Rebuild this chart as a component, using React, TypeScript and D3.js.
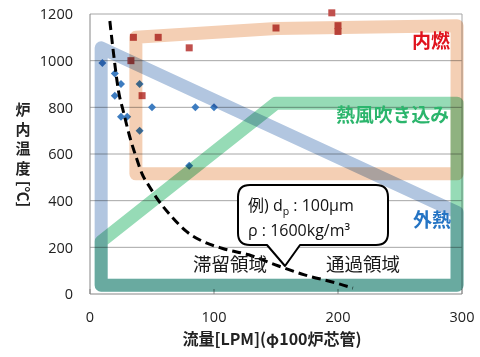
import React from "react";
import * as d3 from "d3";

// ---- data ----
const xTicks = [0, 100, 200, 300];
const yTicks = [0, 200, 400, 600, 800, 1000, 1200];

// 外熱 (blue diamonds)
const blueX = [10, 20, 25, 40, 20, 50, 85, 100, 25, 30, 40, 80];
const blueY = [990, 945, 900, 900, 850, 800, 800, 800, 760, 760, 700, 550];

// 内燃 (red squares)
const redX = [35, 55, 80, 33, 42, 150, 195, 200, 200];
const redY = [1100, 1100, 1055, 1000, 850, 1140, 1205, 1150, 1125];

// boundary curve (dp 100µm, ρ 1600kg/m3)
const curveX = [16, 19, 23, 27, 32, 37, 42, 48, 54, 66, 78, 90, 107, 128, 149, 173, 200, 212];
const curveY = [1170, 1030, 870, 780, 675, 590, 515, 460, 410, 331, 267, 228, 195, 168, 126, 82, 45, 25];

// regions (band outlines)
const orangeBandX = [37, 37, 150, 296, 296];
const orangeBandY = [515, 1100, 1138, 1150, 515];
const blueBandX = [9, 9, 296, 296];
const blueBandY = [38, 1055, 350, 38];
const greenBandX = [9, 9, 150, 296, 296];
const greenBandY = [38, 225, 818, 818, 38];

const W = 480;
const H = 357;

export default function App() {
  const x = d3.scaleLinear().domain([0, 300]).range([90, 462]);
  const y = d3.scaleLinear().domain([0, 1200]).range([294, 14]);

  const closed = d3
    .line<[number, number]>()
    .x((d) => x(d[0]))
    .y((d) => y(d[1]))
    .curve(d3.curveLinearClosed);
  const smooth = d3
    .line<[number, number]>()
    .x((d) => x(d[0]))
    .y((d) => y(d[1]))
    .curve(d3.curveMonotoneX);

  const zip = (a: number[], b: number[]) => a.map((v, i) => [v, b[i]] as [number, number]);

  const latin = "'Open Sans', 'Noto Sans CJK JP', sans-serif";
  const cjk = "'Noto Sans CJK JP', sans-serif";

  const bandStyle = (color: string) => ({
    fill: "none",
    stroke: color,
    strokeWidth: 13,
    strokeLinejoin: "round" as const,
    mixBlendMode: "multiply" as const,
  });

  return (
    <svg
      width={W}
      height={H}
      style={{ position: "absolute", left: 0, top: 0, background: "#fff" }}
    >
      <rect x={0} y={0} width={W} height={H} fill="#fff" />
      {/* gridlines */}
      {yTicks.slice(1).map((t) => (
        <line key={t} x1={x(0)} x2={x(300)} y1={y(t)} y2={y(t)} stroke="#a6a6a6" strokeWidth={1} />
      ))}
      <line x1={x(300)} x2={x(300)} y1={y(1200)} y2={y(0)} stroke="#a6a6a6" strokeWidth={1} />
      {/* axes */}
      <line x1={x(0)} x2={x(0)} y1={y(1200)} y2={y(0)} stroke="#868686" strokeWidth={1} />
      <line x1={x(0)} x2={x(300)} y1={y(0)} y2={y(0)} stroke="#868686" strokeWidth={1} />
      {xTicks.map((t) => (
        <line key={t} x1={x(t)} x2={x(t)} y1={y(0)} y2={y(0) - 5} stroke="#868686" />
      ))}
      {/* tick labels */}
      {yTicks.map((t) => (
        <text key={t} x={73} y={y(t)} dy="0.36em" textAnchor="end" fontFamily={latin} fontSize={14.5} fill="#222">
          {t}
        </text>
      ))}
      {xTicks.map((t) => (
        <text key={t} x={x(t)} y={322} textAnchor="middle" fontFamily={latin} fontSize={14.5} fill="#222">
          {t}
        </text>
      ))}
      {/* markers */}
      {blueX.map((v, i) => {
        const cx = x(v);
        const cy = y(blueY[i]);
        return (
          <path key={"b" + i} d={`M${cx},${cy - 4}L${cx + 4},${cy}L${cx},${cy + 4}L${cx - 4},${cy}Z`} fill="#3d7cc0" />
        );
      })}
      {redX.map((v, i) => (
        <rect key={"r" + i} x={x(v) - 3.5} y={y(redY[i]) - 3.5} width={7} height={7} fill="#c0504d" />
      ))}
      {/* boundary curve */}
      <path
        d={smooth(zip(curveX, curveY)) || ""}
        fill="none"
        stroke="#000"
        strokeWidth={3}
        strokeDasharray="9,5"
      />
      {/* region bands */}
      <path d={closed(zip(orangeBandX, orangeBandY)) || ""} style={bandStyle("#f4cfb4")} />
      <path d={closed(zip(greenBandX, greenBandY)) || ""} style={bandStyle("#96dbb6")} />
      <path d={closed(zip(blueBandX, blueBandY)) || ""} style={bandStyle("#b2c6e0")} />
      {/* region labels */}
      <text x={450} y={48} textAnchor="end" fontFamily={cjk} fontWeight="bold" fontSize={19} fill="#e0141e">
        内燃
      </text>
      <text x={449} y={122} textAnchor="end" fontFamily={cjk} fontWeight="bold" fontSize={18.8} fill="#2bb56c">
        熱風吹き込み
      </text>
      <text x={451} y={227} textAnchor="end" fontFamily={cjk} fontWeight="bold" fontSize={19} fill="#2474c4">
        外熱
      </text>
      <text x={193} y={271} fontFamily={cjk} fontSize={18.5} fill="#1a1a1a">
        滞留領域
      </text>
      <text x={326} y={271} fontFamily={cjk} fontSize={18.5} fill="#1a1a1a">
        通過領域
      </text>
      {/* callout */}
      <path
        d="M250,185 H376 Q388,185 388,197 V233 Q388,245 376,245 H300 L285,266 L267,245 H250 Q238,245 238,233 V197 Q238,185 250,185 Z"
        fill="#fff"
        stroke="#000"
        strokeWidth={2}
        strokeLinejoin="round"
      />
      <text x={248} y={211} fontFamily={latin} fontSize={16} fill="#111">
        例) d
        <tspan fontSize={10.5} dy={4}>p</tspan>
        <tspan dy={-4}> : 100μm</tspan>
      </text>
      <text x={248} y={236} fontFamily={latin} fontSize={16} fill="#111">
        ρ : 1600kg/m³
      </text>
      {/* axis titles */}
      <text x={272} y={345} textAnchor="middle" fontFamily={cjk} fontWeight="bold" fontSize={16} fill="#222">
        流量[LPM](φ100炉芯管)
      </text>
      {["炉", "内", "温", "度"].map((c, i) => (
        <text key={c} x={23} y={115 + i * 19.5} textAnchor="middle" fontFamily={cjk} fontWeight="bold" fontSize={15} fill="#222">
          {c}
        </text>
      ))}
      <text
        transform="translate(23,194) rotate(90)"
        textAnchor="middle"
        dy="0.35em"
        fontFamily={cjk}
        fontWeight="bold"
        fontSize={15}
        fill="#222"
      >
        [℃]
      </text>
    </svg>
  );
}
